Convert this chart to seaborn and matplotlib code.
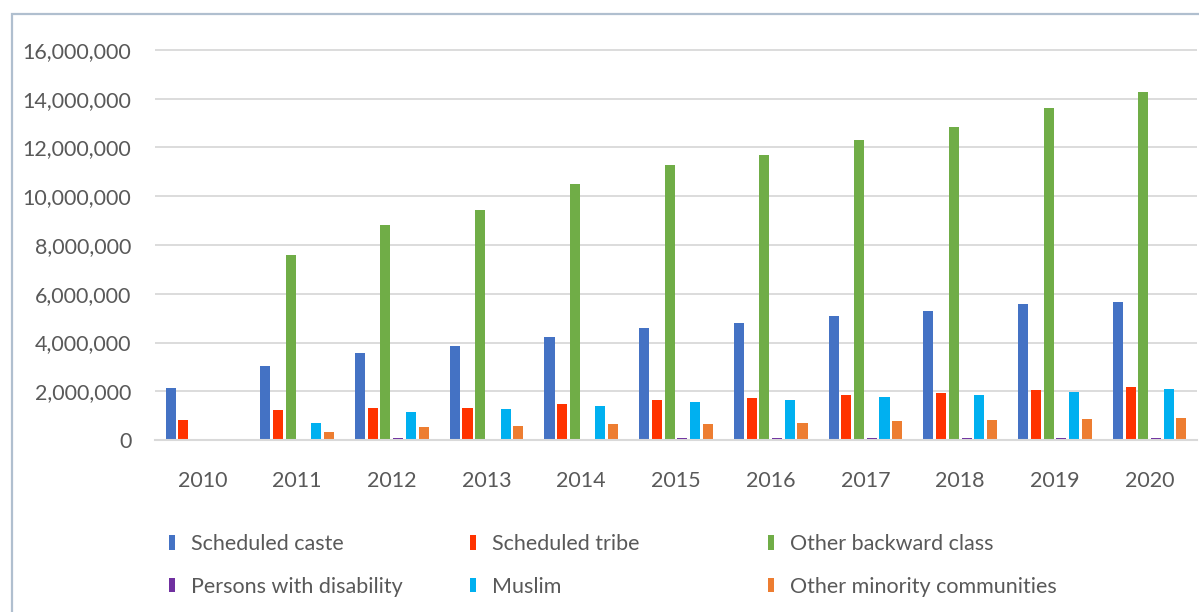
import matplotlib
matplotlib.use("Agg")
import matplotlib.pyplot as plt
import seaborn as sns
import pandas as pd
import numpy as np
from matplotlib.patches import Rectangle
from matplotlib.ticker import FuncFormatter

years = ["2010", "2011", "2012", "2013", "2014", "2015", "2016", "2017", "2018", "2019", "2020"]
groups = ["Scheduled caste", "Scheduled tribe", "Other backward class",
          "Persons with disability", "Muslim", "Other minority communities"]

scheduled_caste = [2.13, 3.05, 3.57, 3.86, 4.24, 4.61, 4.82, 5.10, 5.31, 5.58, 5.68]
scheduled_tribe = [0.82, 1.23, 1.31, 1.33, 1.49, 1.64, 1.71, 1.85, 1.92, 2.06, 2.16]
other_backward = [0.0, 7.60, 8.80, 9.45, 10.50, 11.29, 11.69, 12.32, 12.85, 13.62, 14.28]
disability = [0.0, 0.06, 0.07, 0.06, 0.05, 0.07, 0.08, 0.07, 0.08, 0.09, 0.09]
muslim = [0.0, 0.71, 1.15, 1.26, 1.39, 1.55, 1.63, 1.75, 1.83, 1.97, 2.10]
other_minority = [0.0, 0.34, 0.55, 0.57, 0.66, 0.66, 0.68, 0.79, 0.81, 0.86, 0.89]

colors = ["#4472C4", "#FF3300", "#70AD47", "#7030A0", "#00B0F0", "#ED7D31"]

series = [scheduled_caste, scheduled_tribe, other_backward, disability, muslim, other_minority]
rows = []
for g, vals in zip(groups, series):
    for y, v in zip(years, vals):
        rows.append({"Year": y, "Group": g, "Value": v * 1e6})
df = pd.DataFrame(rows)

sns.set_style("white")
plt.rcParams["font.family"] = ["Lato", "DejaVu Sans"]
TEXT = "#595959"
FS = 15.5

W, H = 1199, 612
fig = plt.figure(figsize=(W / 100, H / 100), dpi=100)
ymax = 16.1e6
ax_h = 390 * ymax / 16e6
ax = fig.add_axes([155 / W, 1 - 440 / H, (1197 - 155) / W, ax_h / H])

sns.barplot(data=df, x="Year", y="Value", hue="Group", hue_order=groups,
            palette=colors, saturation=1, width=0.805, gap=0.21,
            errorbar=None, linewidth=0, ax=ax)

ax.set_ylim(0, ymax)
ax.set_yticks(np.arange(0, 16e6 + 1, 2e6))
ax.yaxis.set_major_formatter(FuncFormatter(lambda v, p: f"{int(v):,}"))
ax.set_xlabel("")
ax.set_ylabel("")
ax.grid(axis="y", color="#d9d9d9", linewidth=1.3)
ax.grid(axis="x", visible=False)
ax.set_axisbelow(True)
for s in ["top", "right", "left"]:
    ax.spines[s].set_visible(False)
ax.spines["bottom"].set_color("#d9d9d9")
ax.spines["bottom"].set_linewidth(1.5)
ax.tick_params(axis="y", length=0, pad=17, labelsize=FS, labelcolor=TEXT)
ax.tick_params(axis="x", length=0, pad=22, labelsize=FS, labelcolor=TEXT)

handles, labels = ax.get_legend_handles_labels()
ax.get_legend().remove()
hmap = dict(zip(labels, handles))
cols = [(["Scheduled caste", "Persons with disability"], 169),
        (["Scheduled tribe", "Muslim"], 470),
        (["Other backward class", "Other minority communities"], 768)]
for labs, x in cols:
    leg = fig.legend([hmap[l] for l in labs], labs, loc="upper left",
                     bbox_to_anchor=(x / W, 1 - 534 / H), frameon=False,
                     fontsize=FS, labelcolor=TEXT, handlelength=0.3,
                     handleheight=0.65, handletextpad=0.7, labelspacing=1.05,
                     borderpad=0, borderaxespad=0)

fig.add_artist(Rectangle((12 / W, -0.1), 1.2, 1.1 - 14 / H, transform=fig.transFigure,
                         fill=False, edgecolor="#b0bfcf", linewidth=1.6))

fig.savefig("out.png", dpi=100, facecolor="white")
